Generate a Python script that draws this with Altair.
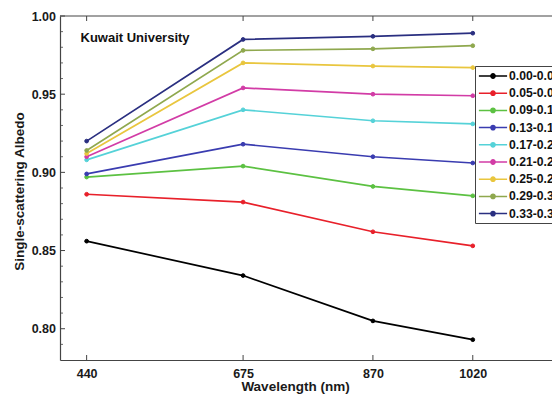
import altair as alt
import pandas as pd

# ---- data ----
wavelength_nm = [440, 675, 870, 1020]
aot_bins = ["0.00-0.04", "0.05-0.08", "0.09-0.12", "0.13-0.16", "0.17-0.20",
            "0.21-0.24", "0.25-0.28", "0.29-0.32", "0.33-0.36"]
line_colors = ["#000000", "#e8202a", "#5cc142", "#3a3cb0", "#55d2d8",
               "#d23ca6", "#e9c63e", "#8fa84e", "#2a2f80"]

ssa_000_004 = [0.856, 0.834, 0.805, 0.793]
ssa_005_008 = [0.886, 0.881, 0.862, 0.853]
ssa_009_012 = [0.897, 0.904, 0.891, 0.885]
ssa_013_016 = [0.899, 0.918, 0.910, 0.906]
ssa_017_020 = [0.908, 0.940, 0.933, 0.931]
ssa_021_024 = [0.910, 0.954, 0.950, 0.949]
ssa_025_028 = [0.912, 0.970, 0.968, 0.967]
ssa_029_032 = [0.914, 0.978, 0.979, 0.981]
ssa_033_036 = [0.920, 0.985, 0.987, 0.989]
ssa_series = [ssa_000_004, ssa_005_008, ssa_009_012, ssa_013_016, ssa_017_020,
              ssa_021_024, ssa_025_028, ssa_029_032, ssa_033_036]

y_major = [0.80, 0.85, 0.90, 0.95, 1.00]
y_minor = [0.79, 0.81, 0.82, 0.83, 0.84, 0.86, 0.87, 0.88, 0.89, 0.91,
           0.92, 0.93, 0.94, 0.96, 0.97, 0.98, 0.99]
x_domain = [400, 1139]
y_domain = [0.78, 1.00]

rows = []
for name, vals in zip(aot_bins, ssa_series):
    for w, v in zip(wavelength_nm, vals):
        rows.append({"wavelength": w, "ssa": v, "bin": name})
df = pd.DataFrame(rows)

W, H = 492, 344
FONT = "Liberation Sans"
AXC = "#444444"
TXT = "#1a1a1a"

xs = alt.Scale(domain=x_domain, nice=False, zero=False)
ys = alt.Scale(domain=y_domain, nice=False, zero=False)
cscale = alt.Scale(domain=aot_bins, range=line_colors)

SYM = ("M-2.35,0H2.35M-0.36,0A0.36,0.36,0,1,1,0.36,0"
       "A0.36,0.36,0,1,1,-0.36,0Z")
legend = alt.Legend(orient="none", legendX=415, legendY=50, title=None,
                    symbolType=SYM, symbolSize=144, symbolStrokeWidth=1.5,
                    symbolOffset=8, labelOffset=9, rowPadding=3.2, padding=3,
                    strokeColor=AXC, fillColor="white",
                    labelFont=FONT, labelFontSize=12.2, labelFontWeight="bold",
                    labelColor="#111111", labelLimit=200)

x_axis = alt.Axis(values=wavelength_nm, format="d", ticks=False, grid=False,
                  labelFont=FONT, labelFontSize=12.5, labelFontWeight="bold",
                  labelColor=TXT, labelPadding=7,
                  domainColor=AXC, domainWidth=1.2,
                  title="Wavelength (nm)", titleFont=FONT, titleFontSize=13.5,
                  titleFontWeight="bold", titleColor=TXT,
                  titleX=235, titleY=30.5, titleBaseline="alphabetic")
y_axis = alt.Axis(values=y_major, format=".2f", ticks=False, grid=False,
                  labelFont=FONT, labelFontSize=12.5, labelFontWeight="bold",
                  labelColor=TXT, labelPadding=4.5,
                  domainColor=AXC, domainWidth=1.2,
                  title="Single-scattering Albedo", titleFont=FONT,
                  titleFontSize=13.5, titleFontWeight="bold",
                  titleColor=TXT, titleX=-37, titleY=175,
                  titleBaseline="alphabetic")

base = alt.Chart(df)
lines = base.mark_line(strokeWidth=1.7).encode(
    x=alt.X("wavelength:Q", scale=xs, axis=x_axis),
    y=alt.Y("ssa:Q", scale=ys, axis=y_axis),
    stroke=alt.Stroke("bin:N", scale=cscale, legend=legend),
)
points = base.mark_point(filled=True, size=14, strokeWidth=1, opacity=1).encode(
    x=alt.X("wavelength:Q", scale=xs, axis=x_axis),
    y=alt.Y("ssa:Q", scale=ys, axis=y_axis),
    fill=alt.Fill("bin:N", scale=cscale, legend=legend),
    stroke=alt.Stroke("bin:N", scale=cscale, legend=legend),
)

ymaj_df = pd.DataFrame({"ssa": y_major})
ymin_df = pd.DataFrame({"ssa": y_minor})
xt_df = pd.DataFrame({"wavelength": wavelength_nm})

ymaj_ticks = alt.Chart(ymaj_df).mark_rule(color=AXC, strokeWidth=1).encode(
    y=alt.Y("ssa:Q", scale=ys, axis=y_axis), x=alt.value(0), x2=alt.value(5))
ymin_ticks = alt.Chart(ymin_df).mark_rule(color=AXC, strokeWidth=0.8).encode(
    y=alt.Y("ssa:Q", scale=ys, axis=y_axis), x=alt.value(0), x2=alt.value(3))
xb_ticks = alt.Chart(xt_df).mark_rule(color=AXC, strokeWidth=1).encode(
    x=alt.X("wavelength:Q", scale=xs, axis=x_axis),
    y=alt.value(H), y2=alt.value(H - 5))
xt_ticks = alt.Chart(xt_df).mark_rule(color=AXC, strokeWidth=1).encode(
    x=alt.X("wavelength:Q", scale=xs, axis=x_axis),
    y=alt.value(0), y2=alt.value(5))

top_line = alt.Chart(pd.DataFrame({"a": [0]})).mark_rule(
    color=AXC, strokeWidth=1.2).encode(
    x=alt.value(0), x2=alt.value(W + 5), y=alt.value(0))

label = alt.Chart(pd.DataFrame({"txt": ["Kuwait University"]})).mark_text(
    font=FONT, fontSize=13, fontWeight="bold", color="#111111",
    align="left", baseline="alphabetic").encode(
    text="txt:N", x=alt.value(20.5), y=alt.value(26))

chart = alt.layer(
    lines, points, ymin_ticks, ymaj_ticks, xb_ticks, xt_ticks, top_line, label,
).properties(
    width=W, height=H,
    autosize=alt.AutoSizeParams(type="none"),
    padding={"left": 52, "top": 8, "right": 0, "bottom": 34},
).configure(background="white").configure_view(stroke=None)

chart.save("out.html", embed_options={"renderer": "svg", "actions": False})
